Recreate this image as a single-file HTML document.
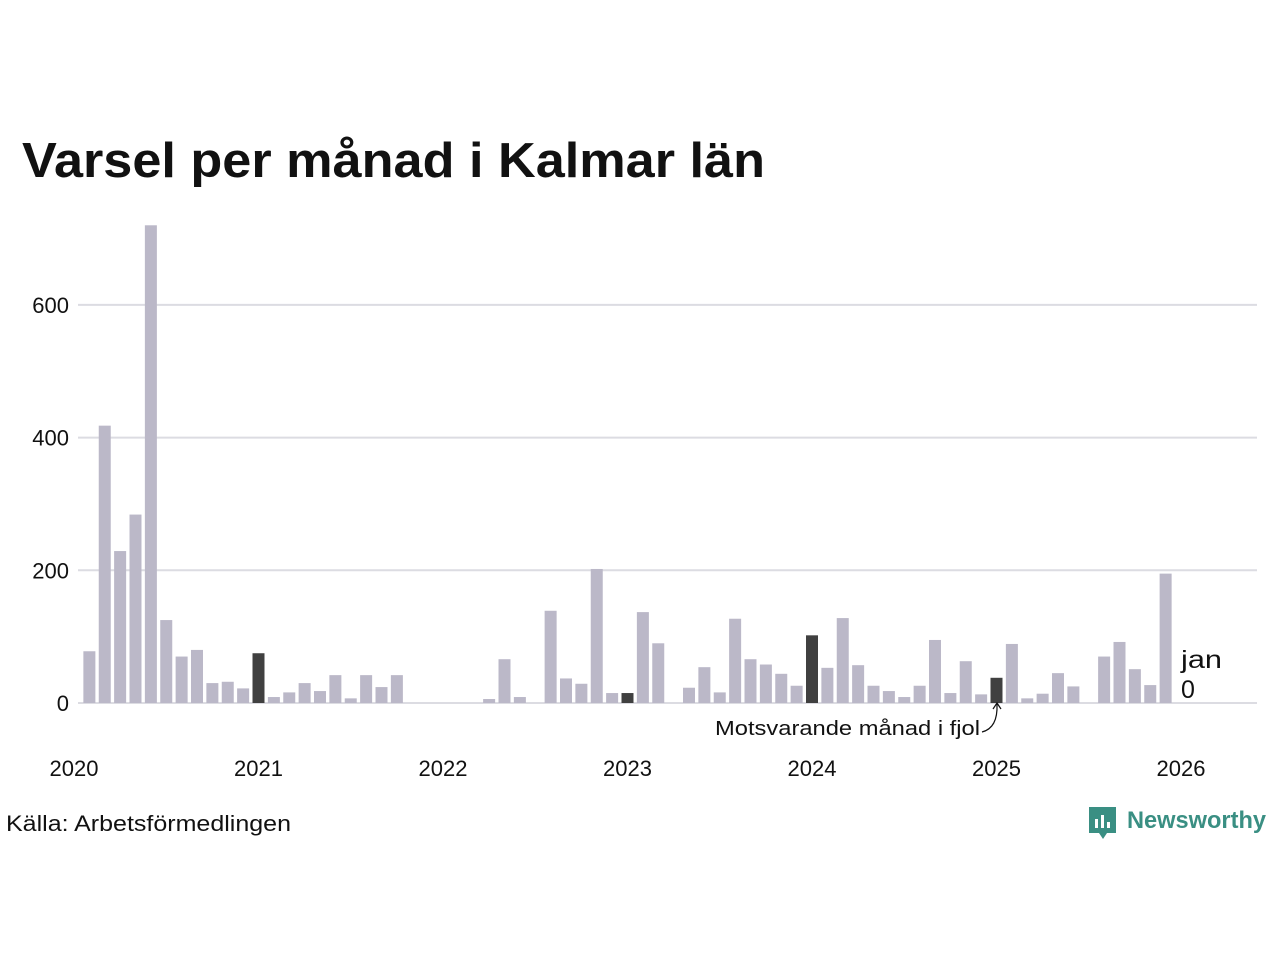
<!DOCTYPE html>
<html><head><meta charset="utf-8"><style>
body{margin:0;background:#fff;width:1280px;height:960px;overflow:hidden;font-family:"Liberation Sans","DejaVu Sans",sans-serif}
</style></head><body>
<svg id="chart" width="1280" height="960" xmlns="http://www.w3.org/2000/svg">
<text x="22" y="177" font-size="49" font-weight="bold" fill="#111" textLength="743" lengthAdjust="spacingAndGlyphs">Varsel per månad i Kalmar län</text>
<g id="grid"></g><g id="bars"></g><g id="xaxis"></g>
<text x="1181" y="668" font-size="25" fill="#111" textLength="41" lengthAdjust="spacingAndGlyphs">jan</text>
<text x="1181" y="698" font-size="25" fill="#111">0</text>
<text x="715" y="735" font-size="20" fill="#111" textLength="265" lengthAdjust="spacingAndGlyphs">Motsvarande månad i fjol</text>
<path d="M982,732 Q998,728 997,704" fill="none" stroke="#111" stroke-width="1.2"/>
<path d="M993,709 L997,703 L1001,709" fill="none" stroke="#111" stroke-width="1.2"/>
<text x="6" y="831" font-size="22" fill="#111" textLength="285" lengthAdjust="spacingAndGlyphs">Källa: Arbetsförmedlingen</text>
<g>
<path d="M1089,807 h27 v26 h-9 l-4,6 l-4,-6 h-10 z" fill="#3a8f83"/>
<rect x="1095" y="819" width="3" height="9" fill="#fff"/><rect x="1101" y="815" width="3" height="13" fill="#fff"/><rect x="1107" y="822" width="3" height="6" fill="#fff"/>
<text x="1127" y="828" font-size="24" font-weight="bold" fill="#3a8f83" textLength="139" lengthAdjust="spacingAndGlyphs">Newsworthy</text>
</g>
</svg>
<script>
const months=["jan","feb","mar","apr","maj","jun","jul","aug","sep","okt","nov","dec"];
const values=[0,78,418,229,284,720,125,70,80,30,32,22,
75,9,16,30,18,42,7,42,24,42,0,0,
0,0,0,6,66,9,0,139,37,29,202,15,
15,137,90,0,23,54,16,127,66,58,44,26,
102,53,128,57,26,18,9,26,95,15,63,13,
38,89,7,14,45,25,0,70,92,51,27,195,
0];
const highlight=[12,36,48,60];
const yTicks=[0,200,400,600];
const years=[2020,2021,2022,2023,2024,2025,2026];
const NS="http://www.w3.org/2000/svg";
const y0=703,pxPer=132.7/200,x0=74,monthW=184.5/12;
const yS=v=>y0-v*pxPer, xS=i=>x0+i*monthW;
const grid=document.getElementById('grid'),bars=document.getElementById('bars'),xa=document.getElementById('xaxis');
yTicks.forEach(t=>{
 const l=document.createElementNS(NS,'line');
 
 
 l.setAttribute('x1',78);l.setAttribute('x2',1257);l.setAttribute('y1',yS(t));l.setAttribute('y2',yS(t));
 l.setAttribute('stroke','#dcdce2');l.setAttribute('stroke-width',2);grid.appendChild(l);
 const tx=document.createElementNS(NS,'text');
 
 
 tx.setAttribute('x',69);tx.setAttribute('y',yS(t)+8);tx.setAttribute('text-anchor','end');tx.setAttribute('font-size',22);tx.setAttribute('fill','#111');
 tx.textContent=t;grid.appendChild(tx);
});
values.forEach((v,i)=>{
 if(v<=0)return;
 const r=document.createElementNS(NS,'rect');
 
 
 r.setAttribute('x',xS(i)-6);r.setAttribute('width',12);r.setAttribute('y',yS(v));r.setAttribute('height',v*pxPer);
 r.setAttribute('fill',highlight.includes(i)?'#404040':'#bbb8c8');bars.appendChild(r);
});
years.forEach((y,k)=>{
 const tx=document.createElementNS(NS,'text');
 
 
 tx.setAttribute('x',xS(k*12));tx.setAttribute('y',776);tx.setAttribute('text-anchor','middle');tx.setAttribute('font-size',22);tx.setAttribute('fill','#111');
 tx.textContent=y;xa.appendChild(tx);
});
</script>
</body></html>
